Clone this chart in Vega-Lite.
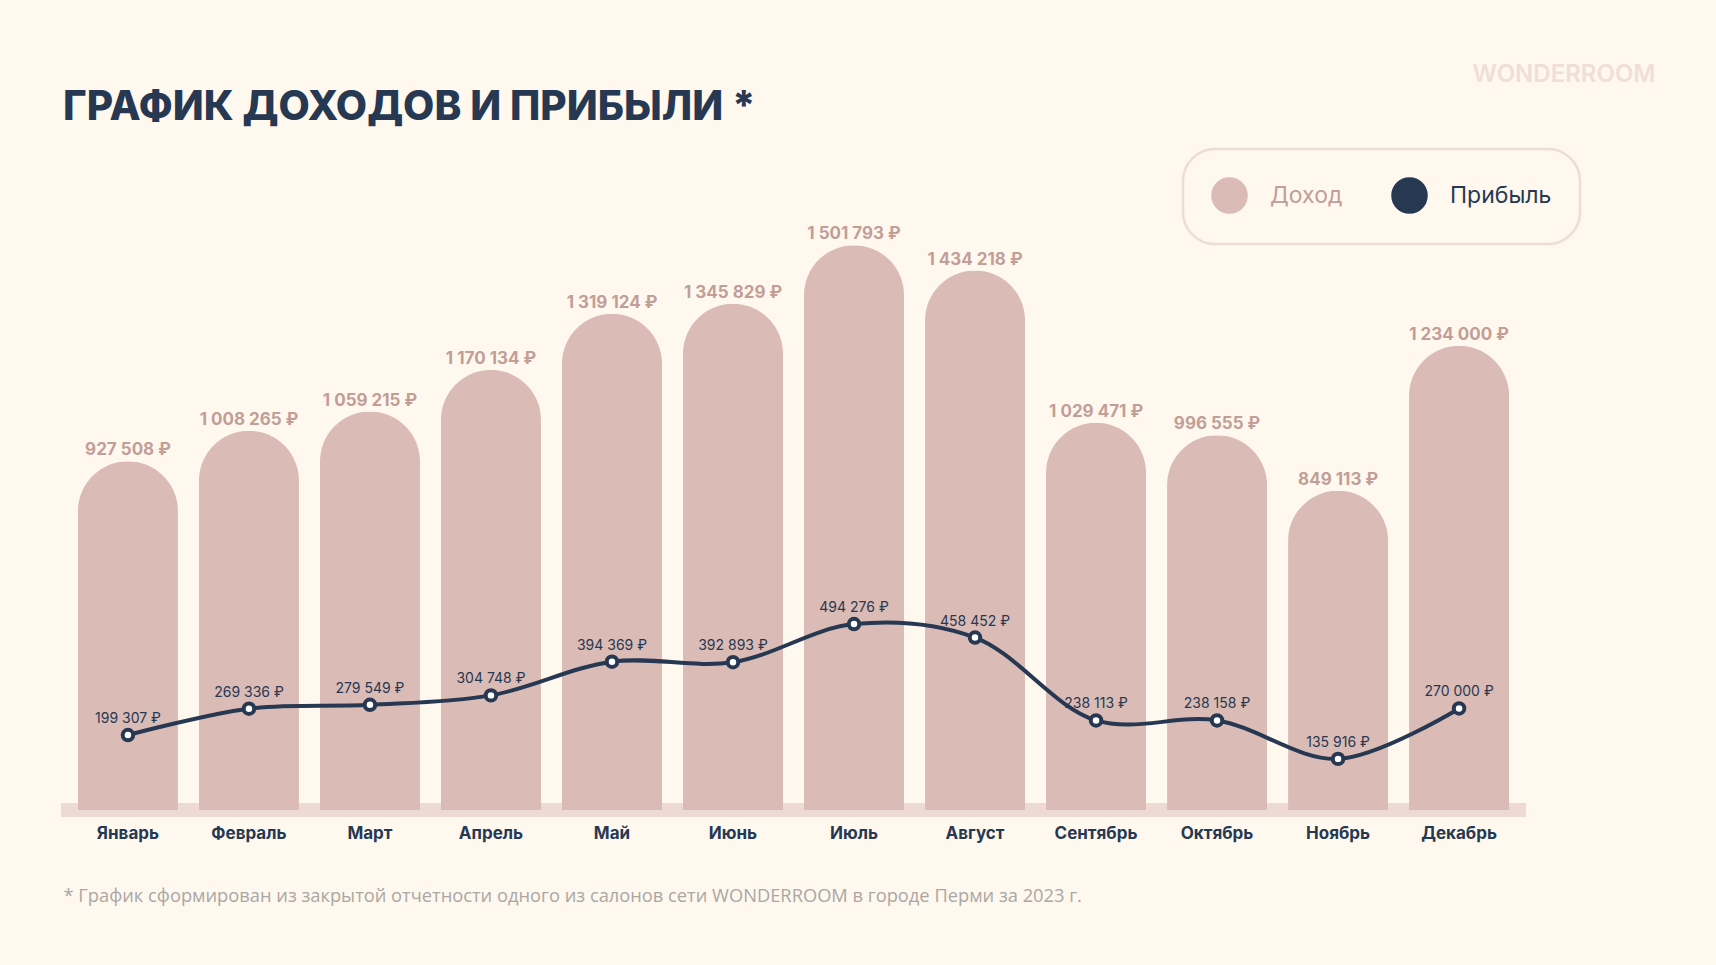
{
  "$schema": "https://vega.github.io/schema/vega-lite/v6.json",
  "autosize": "none",
  "width": 1465,
  "height": 677,
  "padding": {"left": 61, "top": 133, "right": 190, "bottom": 155},
  "background": "#FEF8EF",
  "title": {
    "text": "ГРАФИК ДОХОДОВ И ПРИБЫЛИ *",
    "anchor": "start",
    "frame": "group",
    "font": "Inter",
    "fontSize": 40.5,
    "fontWeight": 800,
    "color": "#263852",
    "offset": 13,
    "baseline": "alphabetic",
    "dx": 2,
    "dy": 111
  },
  "config": {
    "view": {"stroke": null},
    "locale": {
      "number": {"decimal": ",", "thousands": " ", "grouping": [3], "currency": ["", " ₽"]}
    }
  },
  "data": {
    "values": [
      {"month": "Январь", "income": 927508, "profit": 199307},
      {"month": "Февраль", "income": 1008265, "profit": 269336},
      {"month": "Март", "income": 1059215, "profit": 279549},
      {"month": "Апрель", "income": 1170134, "profit": 304748},
      {"month": "Май", "income": 1319124, "profit": 394369},
      {"month": "Июнь", "income": 1345829, "profit": 392893},
      {"month": "Июль", "income": 1501793, "profit": 494276},
      {"month": "Август", "income": 1434218, "profit": 458452},
      {"month": "Сентябрь", "income": 1029471, "profit": 238113},
      {"month": "Октябрь", "income": 996555, "profit": 238158},
      {"month": "Ноябрь", "income": 849113, "profit": 135916},
      {"month": "Декабрь", "income": 1234000, "profit": 270000}
    ]
  },
  "layer": [
    {
      "mark": {"type": "rule", "color": "#EDDAD2", "strokeWidth": 14},
      "encoding": {"y": {"datum": 0, "type": "quantitative", "scale": {"domain": [0, 1800000]}}}
    },
    {
      "mark": {"type": "bar", "cornerRadiusTopLeft": 50, "cornerRadiusTopRight": 50},
      "encoding": {
        "x": {
          "field": "month", "type": "nominal", "sort": null,
          "scale": {"paddingInner": 0.1736, "paddingOuter": 0.14},
          "axis": {
            "domain": false, "ticks": false, "labelAngle": 0,
            "labelFont": "Inter", "labelFontSize": 17, "labelFontWeight": 700,
            "labelColor": "#263852", "labelPadding": 15,
            "title": "* График сформирован из закрытой отчетности одного из салонов сети WONDERROOM в городе Перми за 2023 г.",
            "titleFont": "Open Sans", "titleFontSize": 18.3, "titleFontWeight": 400,
            "titleColor": "#ABA7A3", "titleAnchor": "start", "titleAlign": "left",
            "titleBaseline": "alphabetic", "titleX": 2, "titleY": 91
          }
        },
        "y": {
          "field": "income", "type": "quantitative",
          "scale": {"domain": [0, 1800000]},
          "axis": {
            "domain": false, "ticks": false, "labels": false, "grid": false,
            "title": "WONDERROOM", "titleAngle": 0, "titleAlign": "right",
            "titleBaseline": "alphabetic", "titleX": 1594, "titleY": -52,
            "titleFont": "Inter", "titleFontSize": 24, "titleFontWeight": 600,
            "titleColor": "#F0DFD7"
          }
        },
        "color": {
          "datum": "Доход",
          "scale": {"domain": ["Доход", "Прибыль"], "range": ["#DBBBB5", "#263852"]},
          "legend": {
            "orient": "none", "legendX": 1122, "legendY": 16, "direction": "horizontal",
            "title": null, "symbolType": "circle", "symbolSize": 1225,
            "labelFont": "Inter", "labelFontSize": 23, "labelOffset": 22,
            "columnPadding": 46, "padding": 28, "cornerRadius": 32,
            "strokeColor": "#EEDDD5",
            "encode": {
              "legend": {"update": {"strokeWidth": {"value": 2.5}}},
              "symbols": {"update": {"fill": {"scale": "color", "field": "value"}, "stroke": {"value": "transparent"}, "opacity": {"value": 1}}},
              "labels": {"update": {"fill": {"signal": "datum.value === 'Доход' ? '#C29E96' : '#263852'"}}}
            }
          }
        }
      }
    },
    {
      "mark": {"type": "text", "font": "Inter", "fontSize": 17, "fontWeight": 700, "color": "#C29E96", "baseline": "alphabetic", "dy": -6},
      "encoding": {
        "x": {"field": "month", "type": "nominal", "sort": null},
        "y": {"field": "income", "type": "quantitative"},
        "text": {"field": "income", "type": "quantitative", "format": "$,"}
      }
    },
    {
      "mark": {"type": "line", "interpolate": "catmull-rom", "strokeWidth": 4},
      "encoding": {
        "x": {"field": "month", "type": "nominal", "sort": null},
        "y": {"field": "profit", "type": "quantitative"},
        "color": {
          "datum": "Прибыль",
          "legend": {
            "orient": "none", "legendX": 1122, "legendY": 16, "direction": "horizontal",
            "title": null, "symbolType": "circle", "symbolSize": 1225,
            "labelFont": "Inter", "labelFontSize": 23, "labelOffset": 22,
            "columnPadding": 46, "padding": 28, "cornerRadius": 32,
            "strokeColor": "#EEDDD5",
            "encode": {
              "legend": {"update": {"strokeWidth": {"value": 2.5}}},
              "symbols": {"update": {"fill": {"scale": "color", "field": "value"}, "stroke": {"value": "transparent"}, "opacity": {"value": 1}}},
              "labels": {"update": {"fill": {"signal": "datum.value === 'Доход' ? '#C29E96' : '#263852'"}}}
            }
          }
        }
      }
    },
    {
      "mark": {"type": "point", "filled": true, "fill": "#FFFFFF", "stroke": "#263852", "strokeWidth": 4, "size": 110, "opacity": 1},
      "encoding": {
        "x": {"field": "month", "type": "nominal", "sort": null},
        "y": {"field": "profit", "type": "quantitative"}
      }
    },
    {
      "mark": {"type": "text", "font": "Inter", "fontSize": 14, "fontWeight": 400, "color": "#263852", "baseline": "alphabetic", "dy": -12},
      "encoding": {
        "x": {"field": "month", "type": "nominal", "sort": null},
        "y": {"field": "profit", "type": "quantitative"},
        "text": {"field": "profit", "type": "quantitative", "format": "$,"}
      }
    }
  ]
}
